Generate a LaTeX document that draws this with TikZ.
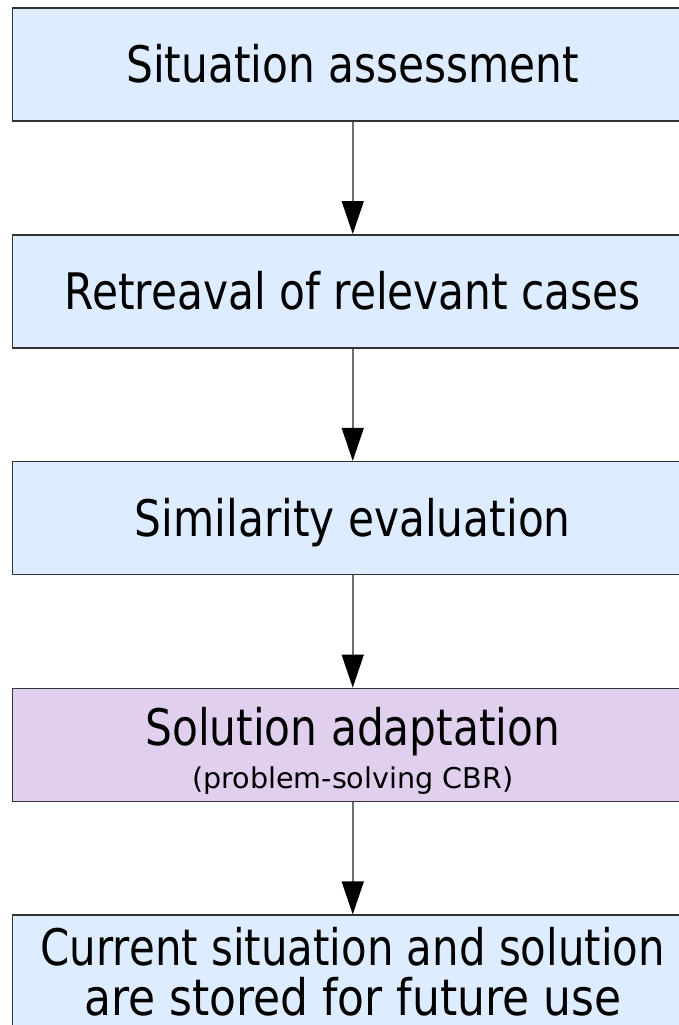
\documentclass[tikz,border=0pt]{standalone}
\usepackage{fontspec}
\setmainfont{DejaVu Sans}
\usetikzlibrary{arrows.meta}
\definecolor{boxblue}{RGB}{221,236,255}
\definecolor{boxpurple}{RGB}{224,208,238}
\definecolor{edgegray}{RGB}{50,50,50}
\definecolor{linegray}{RGB}{110,110,110}
\newcommand{\bigtxt}[2][1]{\scalebox{#1}[1.19]{\fontsize{42.3}{50}\selectfont #2}}
\newcommand{\smalltxt}[1]{{\fontsize{28.6}{32}\selectfont #1}}
\newcommand{\oneline}[3]{\hbox{\rule[-#3]{0pt}{\dimexpr#2+#3\relax}\smash{#1}}}
\newcommand{\twolines}[2]{\vbox{\offinterlineskip\halign{\hfil##\hfil\cr#1\cr#2\cr}}}
\tikzset{
  stage/.style={draw=edgegray, line width=1.6pt, fill=boxblue, minimum width=680.5pt, minimum height=113pt, inner sep=0pt},
  flow/.style={draw=linegray, line width=1.6pt, -{Triangle[length=33pt,width=22pt,color=black]}}
}
\begin{document}
\begin{tikzpicture}[x=1pt,y=-1pt]
\useasboundingbox (0,0) rectangle (679,1025);
\clip (0,0) rectangle (679,1025);
\node[stage] (a) at (352.75,64.5) {\oneline{\bigtxt{Situation assessment}}{40pt}{3.3pt}};
\node[stage] (b) at (352.75,291.3) {\oneline{\bigtxt{Retreaval of relevant cases}}{40pt}{3.3pt}};
\node[stage] (c) at (352.75,518.1) {\oneline{\bigtxt{Similarity evaluation}}{40pt}{3.3pt}};
\node[stage, fill=boxpurple] (d) at (352.75,744.9) {\twolines{\oneline{\bigtxt{Solution adaptation}}{45pt}{20pt}}{\oneline{\smalltxt{(problem-solving CBR)}}{23pt}{1.8pt}}};
\node[stage] (e) at (352.75,971.7) {\twolines{\oneline{\bigtxt[0.99]{Current situation and solution}}{40pt}{10pt}}{\oneline{\bigtxt[1.04]{are stored for future use}}{40pt}{3.4pt}}};
\draw[flow] (a) -- (b);
\draw[flow] (b) -- (c);
\draw[flow] (c) -- (d);
\draw[flow] (d) -- (e);
\end{tikzpicture}
\end{document}
